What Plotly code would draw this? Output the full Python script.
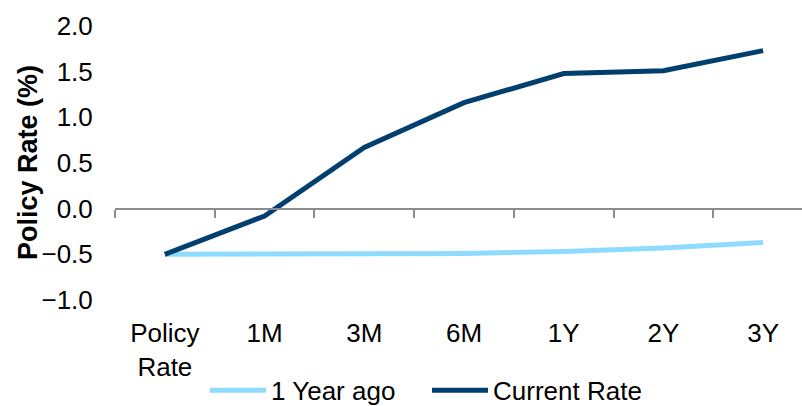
import plotly.graph_objects as go

categories = ["Policy<br>Rate", "1M", "3M", "6M", "1Y", "2Y", "3Y"]
year_ago = [-0.50, -0.50, -0.50, -0.49, -0.47, -0.43, -0.37]
current = [-0.50, -0.08, 0.67, 1.16, 1.48, 1.51, 1.73]
y_ticks = [-1.0, -0.5, 0.0, 0.5, 1.0, 1.5, 2.0]

FONT = "Liberation Sans, Arial, sans-serif"

fig = go.Figure()
fig.add_trace(go.Scatter(x=categories, y=year_ago, name="1 Year ago", mode="lines",
                         line=dict(color="#8ddcff", width=5), xaxis="x", yaxis="y"))
fig.add_trace(go.Scatter(x=categories, y=current, name="Current Rate", mode="lines",
                         line=dict(color="#003f6e", width=5), xaxis="x2", yaxis="y"))

fig.update_layout(
    width=802, height=406,
    margin=dict(l=115, r=0, t=26, b=106, autoexpand=False),
    paper_bgcolor="white", plot_bgcolor="white",
    font=dict(family=FONT, size=26, color="#000000"),
    showlegend=True,
    legend=dict(orientation="h", x=0.131, xanchor="left", y=-0.330, yanchor="middle",
                font=dict(size=26), bgcolor="rgba(0,0,0,0)", itemwidth=56,
                entrywidth=151),
    xaxis=dict(type="category", range=[-0.5, 6.39], showline=False, showgrid=False,
               zeroline=False, ticks="outside", ticklen=10, tickcolor="rgba(0,0,0,0)",
               tickfont=dict(size=26), automargin=False),
    xaxis2=dict(type="category", matches="x", overlaying="x", anchor="free", position=1/3,
                side="bottom", showline=True, linecolor="#8c8c8c", linewidth=2,
                ticks="outside", tickson="boundaries", ticklen=8, tickwidth=2,
                tickcolor="#8c8c8c", showticklabels=False, showgrid=False, zeroline=False),
    yaxis=dict(range=[-1.0, 2.0], tickvals=y_ticks, tickformat=".1f", showline=False,
               showgrid=False, zeroline=False, ticks="outside", ticklen=16,
               tickcolor="rgba(0,0,0,0)", tickfont=dict(size=26), automargin=False),
    annotations=[dict(text="<b>Policy Rate (%)</b>", textangle=-90, xref="paper", yref="paper",
                      x=(28 - 115) / 687, y=0.5, xanchor="center", yanchor="middle",
                      showarrow=False, font=dict(size=27))],
)

fig.write_html("out.html")
